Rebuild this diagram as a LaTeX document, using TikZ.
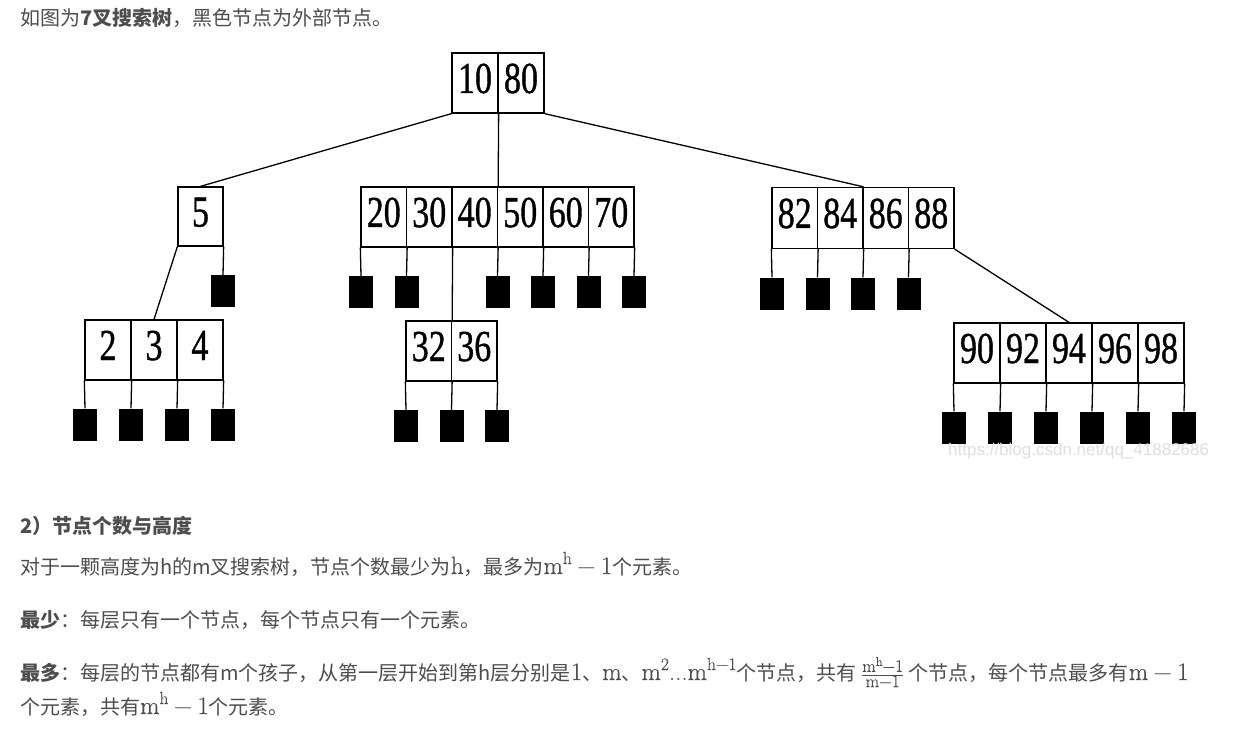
\documentclass[tikz,border=0pt]{standalone}
\usepackage{fontspec}
\usepackage{graphicx}
\setmainfont{Noto Sans CJK SC}
\newfontfamily\serifkeys[FakeBold=1]{Liberation Serif}
\newfontfamily\wmfont{Liberation Sans}
\newfontfamily\lmr[FakeBold=0.3]{Latin Modern Roman}
\definecolor{txt}{HTML}{4D4D4D}
\newcommand{\kv}[1]{\smash{\raisebox{-10pt}{\scalebox{1}[1.3]{#1}}}}
\newcommand{\mm}[1]{{\lmr\fontsize{25}{28}\selectfont #1}}
\newcommand{\sps}[1]{\raisebox{10pt}{\lmr\fontsize{17.5}{19}\selectfont #1}}
\newcommand{\mminus}{\hspace{5.5pt}−\hspace{5.5pt}}
\newcommand{\frc}{$\frac{\hbox{\lmr\fontsize{17.5}{19}\selectfont m\raisebox{6pt}{\fontsize{12.5}{13}\selectfont h}−1}}{\hbox{\lmr\fontsize{17.5}{19}\selectfont m−1}}$}
\tikzset{
  cell/.style={draw=black, line width=1.3pt, minimum height=60pt, inner sep=0pt,
    font=\serifkeys\fontsize{34}{40}\selectfont},
  extn/.style={fill=black, minimum width=24pt, minimum height=32pt, inner sep=0pt},
  link/.style={line width=1.3pt},
  para/.style={anchor=base west, inner sep=0pt, text=txt, font=\fontsize{20}{23}\selectfont},
  wm/.style={anchor=base west, inner sep=0pt, text=gray!25, font=\wmfont\fontsize{17}{20}\selectfont},
}
\begin{document}
\begin{tikzpicture}[x=1pt, y=-1pt]
\useasboundingbox[fill=white] (0,0) rectangle (1237,738);

% root
\node[cell, minimum width=46pt] (r1) at (475,83) {\kv{10}};
\node[cell, minimum width=46pt] (r2) at (521,83) {\kv{80}};

% node 5
\node[cell, minimum width=45pt, minimum height=59pt] (n1) at (200.5,216.5) {\kv{5}};

% node 20..70
\foreach \k/\v in {1/20,2/30,3/40,4/50,5/60,6/70}
  \node[cell, minimum width=45.5pt] (c\k) at ({338.25+45.5*\k},217) {\kv{\v}};

% node 82..88
\foreach \k/\v in {1/82,2/84,3/86,4/88}
  \node[cell, minimum width=45.5pt, minimum height=61pt] (d\k) at ({749.25+45.5*\k},218) {\kv{\v}};

% node 2 3 4
\foreach \k/\v in {1/2,2/3,3/4}
  \node[cell, minimum width=46pt] (a\k) at ({62+46*\k},350) {\kv{\v}};

% node 32 36
\foreach \k/\v in {1/32,2/36}
  \node[cell, minimum width=45.5pt] (p\k) at ({383.25+45.5*\k},351) {\kv{\v}};

% node 90..98
\foreach \k/\v in {1/90,2/92,3/94,4/96,5/98}
  \node[cell, minimum width=46pt] (e\k) at ({931+46*\k},353) {\kv{\v}};

% external nodes
\node[extn] (xn) at (223,291) {};
\foreach \k/\x in {1/361,2/406.5,4/497.5,5/543,6/588.5,7/634}
  \node[extn] (xc\k) at (\x,292) {};
\foreach \k/\x in {1/772,2/817.5,3/863,4/908.5}
  \node[extn] (xd\k) at (\x,293.5) {};
\foreach \k/\x in {1/85,2/131,3/177,4/223}
  \node[extn] (xa\k) at (\x,424.5) {};
\foreach \k/\x in {1/406,2/451.5,3/497}
  \node[extn] (xp\k) at (\x,426) {};
\foreach \k/\x in {1/954,2/1000,3/1046,4/1092,5/1138,6/1184}
  \node[extn] (xe\k) at (\x,427.5) {};

% connectors
\draw[link] (r1.south west) -- (n1.north);
\draw[link] (r1.south east) -- (c3.north east);
\draw[link] (r2.south east) -- (d2.north east);

\draw[link] (n1.south west) -- (a2.north);
\draw[link] (n1.south east) -- (xn.north);

\draw[link] (c1.south west) -- (xc1.north);
\draw[link] (c1.south east) -- (xc2.north);
\draw[link] (c2.south east) -- (p1.north east);
\draw[link] (c3.south east) -- (xc4.north);
\draw[link] (c4.south east) -- (xc5.north);
\draw[link] (c5.south east) -- (xc6.north);
\draw[link] (c6.south east) -- (xc7.north);

\draw[link] (d1.south west) -- (xd1.north);
\draw[link] (d1.south east) -- (xd2.north);
\draw[link] (d2.south east) -- (xd3.north);
\draw[link] (d3.south east) -- (xd4.north);
\draw[link] (d4.south east) -- (e3.north);

\draw[link] (a1.south west) -- (xa1.north);
\draw[link] (a1.south east) -- (xa2.north);
\draw[link] (a2.south east) -- (xa3.north);
\draw[link] (a3.south east) -- (xa4.north);

\draw[link] (p1.south west) -- (xp1.north);
\draw[link] (p1.south east) -- (xp2.north);
\draw[link] (p2.south east) -- (xp3.north);

\draw[link] (e1.south west) -- (xe1.north);
\draw[link] (e1.south east) -- (xe2.north);
\draw[link] (e2.south east) -- (xe3.north);
\draw[link] (e3.south east) -- (xe4.north);
\draw[link] (e4.south east) -- (xe5.north);
\draw[link] (e5.south east) -- (xe6.north);

% watermark
\node[wm] (wmk) at (948,455) {https://blog.csdn.net/qq\_41882686};

% text
\node[para] (t1) at (20,26) {如图为{\bfseries 7叉搜索树}，黑色节点为外部节点。};
\node[para] (t2) at (20,533) {\bfseries 2）节点个数与高度};
\node[para] (t3) at (20,574) {对于一颗高度为h的m叉搜索树，节点个数最少为\mm{h}，最多为\mm{m\sps{h}\mminus 1}个元素。};
\node[para] (t4) at (20,627) {{\bfseries 最少}：每层只有一个节点，每个节点只有一个元素。};
\node[para] (t5) at (20,680) {{\bfseries 最多}：每层的节点都有m个孩子，从第一层开始到第h层分别是\mm{1}、\mm{m}、\mm{m\sps{2}...m\sps{h−1}}个节点，共有 \frc{} 个节点，每个节点最多有\mm{m\mminus 1}};
\node[para] (t6) at (20,714) {个元素，共有\mm{m\sps{h}\mminus 1}个元素。};
\end{tikzpicture}
\end{document}
